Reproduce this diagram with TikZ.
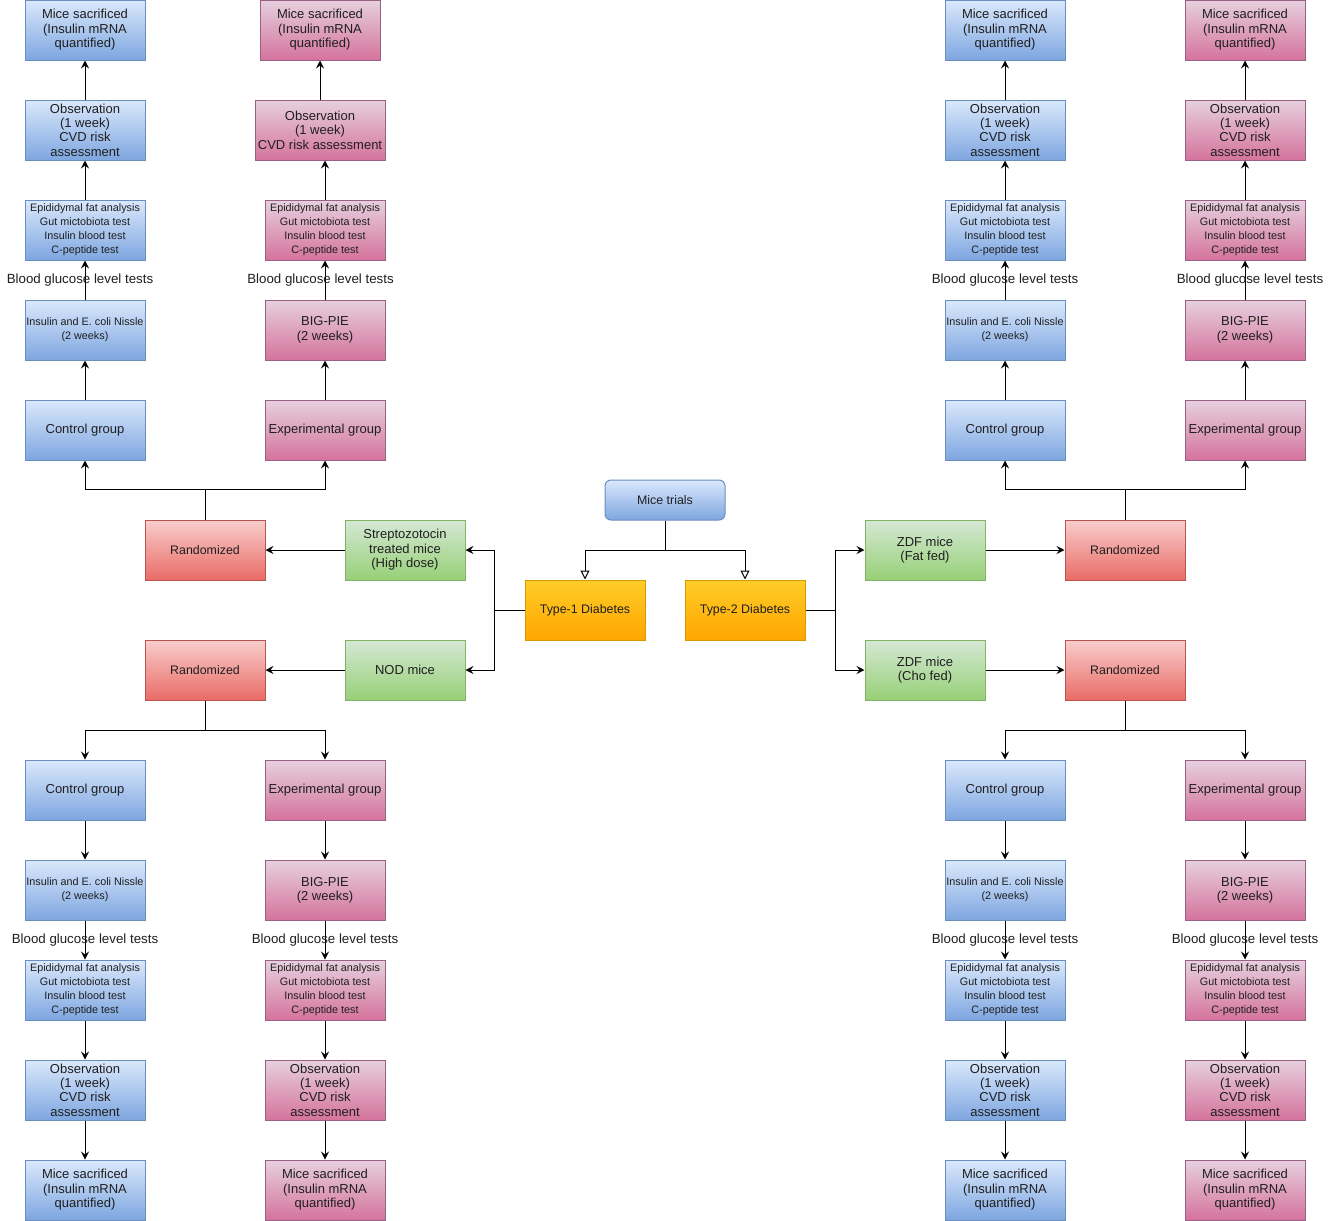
\documentclass[tikz,border=0pt]{standalone}
\usepackage{fontspec}
\setmainfont{Liberation Sans}
\usetikzlibrary{arrows.meta}

\definecolor{ctrltop}{HTML}{DAE8FC}
\definecolor{ctrlbot}{HTML}{7EA6E0}
\definecolor{ctrlline}{HTML}{6C8EBF}
\definecolor{expttop}{HTML}{E6D0DE}
\definecolor{exptbot}{HTML}{D5739D}
\definecolor{exptline}{HTML}{996185}
\definecolor{randtop}{HTML}{F8CECC}
\definecolor{randbot}{HTML}{EA6B66}
\definecolor{randline}{HTML}{B85450}
\definecolor{micetop}{HTML}{D5E8D4}
\definecolor{micebot}{HTML}{97D077}
\definecolor{miceline}{HTML}{82B366}
\definecolor{diabtop}{HTML}{FFCD28}
\definecolor{diabbot}{HTML}{FFA500}
\definecolor{diabline}{HTML}{D79B00}

\begin{document}
\begin{tikzpicture}[x=1pt, y=-1pt, align=center, line width=1pt, text=black!88,
  box/.style={draw, minimum width=120pt, minimum height=60pt, inner sep=0pt,
    font=\fontsize{13}{14.4}\selectfont},
  ctrl/.style={box, draw=ctrlline, top color=ctrltop, bottom color=ctrlbot},
  expt/.style={box, draw=exptline, top color=expttop, bottom color=exptbot},
  randbox/.style={box, draw=randline, top color=randtop, bottom color=randbot,
    font=\fontsize{12.4}{14.4}\selectfont},
  mice/.style={box, draw=miceline, top color=micetop, bottom color=micebot},
  diab/.style={box, draw=diabline, top color=diabtop, bottom color=diabbot,
    font=\fontsize{12.4}{14.4}\selectfont},
  smalltext/.style={font=\fontsize{10.8}{14}\selectfont},
  bgl/.style={font=\fontsize{13.3}{14.4}\selectfont, inner sep=0pt},
  >={Stealth[length=8pt, width=8pt, inset=3pt]},
  hollow/.style={-{Triangle[open, length=9pt, width=9pt]}}]

\useasboundingbox (0,0) rectangle (1331,1221);

% centre of the chart
\path (665,500) node[ctrl, minimum height=40pt, rounded corners=6pt,
        font=\fontsize{12.4}{14.4}\selectfont] (trials) {Mice trials}
      (585,610) node[diab] (typeone) {Type-1 Diabetes}
      (745,610) node[diab] (typetwo) {Type-2 Diabetes}
      (405,550) node[mice] (stz) {Streptozotocin\\treated mice\\(High dose)}
      (405,670) node[mice] (nod) {NOD mice}
      (925,550) node[mice] (fat) {ZDF mice\\(Fat fed)}
      (925,670) node[mice] (cho) {ZDF mice\\(Cho fed)}
      (205,550) node[randbox] (stzrnd) {Randomized}
      (205,670) node[randbox] (nodrnd) {Randomized}
      (1125,550) node[randbox] (fatrnd) {Randomized}
      (1125,670) node[randbox] (chornd) {Randomized};

\draw[hollow] (trials.south) -- ++(0,30) -| (typeone.north);
\draw[hollow] (trials.south) -- ++(0,30) -| (typetwo.north);
\draw[->] (typeone.west) -- ++(-30,0) |- (stz.east);
\draw[->] (typeone.west) -- ++(-30,0) |- (nod.east);
\draw[->] (typetwo.east) -- ++(30,0) |- (fat.west);
\draw[->] (typetwo.east) -- ++(30,0) |- (cho.west);
\draw[->] (stz) -- (stzrnd);
\draw[->] (nod) -- (nodrnd);
\draw[->] (fat) -- (fatrnd);
\draw[->] (cho) -- (chornd);

% streptozotocin branch (upper left)
\path (85,430) node[ctrl] (stzctl) {Control group}
      (85,330) node[ctrl, smalltext] (stzctltrt) {Insulin and E. coli Nissle\\(2 weeks)}
      (85,230) node[ctrl, smalltext] (stzctltst) {Epididymal fat analysis\\Gut mictobiota test\\Insulin blood test\\C-peptide test}
      (85,130) node[ctrl] (stzctlobs) {Observation\\(1 week)\\CVD risk\\assessment}
      (85,30) node[ctrl] (stzctlsac) {Mice sacrificed\\(Insulin mRNA\\quantified)}
      (325,430) node[expt] (stzexp) {Experimental group}
      (325,330) node[expt] (stzexptrt) {BIG-PIE\\(2 weeks)}
      (325,230) node[expt, smalltext] (stzexptst) {Epididymal fat analysis\\Gut mictobiota test\\Insulin blood test\\C-peptide test}
      (320,130) node[expt, minimum width=130pt] (stzexpobs) {Observation\\(1 week)\\CVD risk assessment}
      (320,30) node[expt] (stzexpsac) {Mice sacrificed\\(Insulin mRNA\\quantified)};

\draw[->] (stzrnd.north) -- ++(0,-30) -| (stzctl.south);
\draw[->] (stzrnd.north) -- ++(0,-30) -| (stzexp.south);
\draw[->] (stzctl) -- (stzctltrt);
\draw[->] (stzctltrt) to node[bgl, xshift=-5pt] {Blood glucose level tests} (stzctltst);
\draw[->] (stzctltst) -- (stzctlobs);
\draw[->] (stzctlobs) -- (stzctlsac);
\draw[->] (stzexp) -- (stzexptrt);
\draw[->] (stzexptrt) to node[bgl, xshift=-4.5pt] {Blood glucose level tests} (stzexptst);
\draw[->] (stzexptst.north) -- (stzexptst.north |- stzexpobs.south);
\draw[->] (stzexpobs) -- (stzexpsac);

% NOD branch (lower left)
\path (85,790) node[ctrl] (nodctl) {Control group}
      (85,890) node[ctrl, smalltext] (nodctltrt) {Insulin and E. coli Nissle\\(2 weeks)}
      (85,990) node[ctrl, smalltext] (nodctltst) {Epididymal fat analysis\\Gut mictobiota test\\Insulin blood test\\C-peptide test}
      (85,1090) node[ctrl] (nodctlobs) {Observation\\(1 week)\\CVD risk\\assessment}
      (85,1190) node[ctrl] (nodctlsac) {Mice sacrificed\\(Insulin mRNA\\quantified)}
      (325,790) node[expt] (nodexp) {Experimental group}
      (325,890) node[expt] (nodexptrt) {BIG-PIE\\(2 weeks)}
      (325,990) node[expt, smalltext] (nodexptst) {Epididymal fat analysis\\Gut mictobiota test\\Insulin blood test\\C-peptide test}
      (325,1090) node[expt] (nodexpobs) {Observation\\(1 week)\\CVD risk\\assessment}
      (325,1190) node[expt] (nodexpsac) {Mice sacrificed\\(Insulin mRNA\\quantified)};

\draw[->] (nodrnd.south) -- ++(0,30) -| (nodctl.north);
\draw[->] (nodrnd.south) -- ++(0,30) -| (nodexp.north);
\draw[->] (nodctl) -- (nodctltrt);
\draw[->] (nodctltrt) to node[bgl] {Blood glucose level tests} (nodctltst);
\draw[->] (nodctltst) -- (nodctlobs);
\draw[->] (nodctlobs) -- (nodctlsac);
\draw[->] (nodexp) -- (nodexptrt);
\draw[->] (nodexptrt) to node[bgl] {Blood glucose level tests} (nodexptst);
\draw[->] (nodexptst) -- (nodexpobs);
\draw[->] (nodexpobs) -- (nodexpsac);

% fat fed branch (upper right)
\path (1005,430) node[ctrl] (fatctl) {Control group}
      (1005,330) node[ctrl, smalltext] (fatctltrt) {Insulin and E. coli Nissle\\(2 weeks)}
      (1005,230) node[ctrl, smalltext] (fatctltst) {Epididymal fat analysis\\Gut mictobiota test\\Insulin blood test\\C-peptide test}
      (1005,130) node[ctrl] (fatctlobs) {Observation\\(1 week)\\CVD risk\\assessment}
      (1005,30) node[ctrl] (fatctlsac) {Mice sacrificed\\(Insulin mRNA\\quantified)}
      (1245,430) node[expt] (fatexp) {Experimental group}
      (1245,330) node[expt] (fatexptrt) {BIG-PIE\\(2 weeks)}
      (1245,230) node[expt, smalltext] (fatexptst) {Epididymal fat analysis\\Gut mictobiota test\\Insulin blood test\\C-peptide test}
      (1245,130) node[expt] (fatexpobs) {Observation\\(1 week)\\CVD risk\\assessment}
      (1245,30) node[expt] (fatexpsac) {Mice sacrificed\\(Insulin mRNA\\quantified)};

\draw[->] (fatrnd.north) -- ++(0,-30) -| (fatctl.south);
\draw[->] (fatrnd.north) -- ++(0,-30) -| (fatexp.south);
\draw[->] (fatctl) -- (fatctltrt);
\draw[->] (fatctltrt) to node[bgl] {Blood glucose level tests} (fatctltst);
\draw[->] (fatctltst) -- (fatctlobs);
\draw[->] (fatctlobs) -- (fatctlsac);
\draw[->] (fatexp) -- (fatexptrt);
\draw[->] (fatexptrt) to node[bgl, xshift=5pt] {Blood glucose level tests} (fatexptst);
\draw[->] (fatexptst) -- (fatexpobs);
\draw[->] (fatexpobs) -- (fatexpsac);

% cho fed branch (lower right)
\path (1005,790) node[ctrl] (choctl) {Control group}
      (1005,890) node[ctrl, smalltext] (choctltrt) {Insulin and E. coli Nissle\\(2 weeks)}
      (1005,990) node[ctrl, smalltext] (choctltst) {Epididymal fat analysis\\Gut mictobiota test\\Insulin blood test\\C-peptide test}
      (1005,1090) node[ctrl] (choctlobs) {Observation\\(1 week)\\CVD risk\\assessment}
      (1005,1190) node[ctrl] (choctlsac) {Mice sacrificed\\(Insulin mRNA\\quantified)}
      (1245,790) node[expt] (choexp) {Experimental group}
      (1245,890) node[expt] (choexptrt) {BIG-PIE\\(2 weeks)}
      (1245,990) node[expt, smalltext] (choexptst) {Epididymal fat analysis\\Gut mictobiota test\\Insulin blood test\\C-peptide test}
      (1245,1090) node[expt] (choexpobs) {Observation\\(1 week)\\CVD risk\\assessment}
      (1245,1190) node[expt] (choexpsac) {Mice sacrificed\\(Insulin mRNA\\quantified)};

\draw[->] (chornd.south) -- ++(0,30) -| (choctl.north);
\draw[->] (chornd.south) -- ++(0,30) -| (choexp.north);
\draw[->] (choctl) -- (choctltrt);
\draw[->] (choctltrt) to node[bgl] {Blood glucose level tests} (choctltst);
\draw[->] (choctltst) -- (choctlobs);
\draw[->] (choctlobs) -- (choctlsac);
\draw[->] (choexp) -- (choexptrt);
\draw[->] (choexptrt) to node[bgl] {Blood glucose level tests} (choexptst);
\draw[->] (choexptst) -- (choexpobs);
\draw[->] (choexpobs) -- (choexpsac);
\end{tikzpicture}
\end{document}
